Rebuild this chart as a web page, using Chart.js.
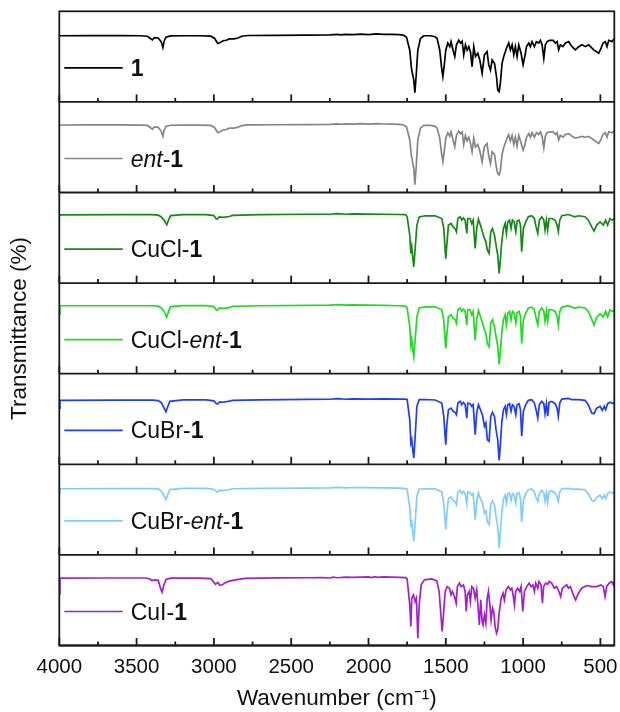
<!DOCTYPE html>
<html><head><meta charset="utf-8">
<script src="https://cdn.jsdelivr.net/npm/chart.js@4"></script>
<style>html,body{margin:0;padding:0;background:#fff;}#wrap{width:620px;height:712px;position:relative;}</style>
</head><body><div id="wrap"><canvas id="c"></canvas></div>
<script>
const seriesLabels = ['1', 'ent-1', 'CuCl-1', 'CuCl-ent-1', 'CuBr-1', 'CuBr-ent-1', 'CuI-1'];
const legendParts = [
  [['1', 'bold']],
  [['ent', 'italic'], ['-', 'normal'], ['1', 'bold']],
  [['CuCl-', 'normal'], ['1', 'bold']],
  [['CuCl-', 'normal'], ['ent', 'italic'], ['-', 'normal'], ['1', 'bold']],
  [['CuBr-', 'normal'], ['1', 'bold']],
  [['CuBr-', 'normal'], ['ent', 'italic'], ['-', 'normal'], ['1', 'bold']],
  [['CuI-', 'normal'], ['1', 'bold']]
];
const seriesColors = ['#000000', '#858585', '#138a13', '#1fdc1f', '#1e3cff', '#80cdfd', '#a21fd0'];
const xTickValues = [4000, 3500, 3000, 2500, 2000, 1500, 1000, 500];
const xMinorTickValues = [3750, 3250, 2750, 2250, 1750, 1250, 750];

// [wavenumber, transmittance within panel]
const spec1 = [[4000,73],[3800,73.2],[3600,73.2],[3480,73],[3430,72.5],[3410,70],[3398,68.5],[3385,71],[3360,70.5],[3340,66],[3330,60],[3322,67],[3310,71.5],[3280,72.8],[3200,73],[3100,73],[3020,72.5],[2995,70],[2975,64.5],[2960,65.5],[2940,67.5],[2920,68],[2900,69.5],[2870,69.5],[2845,70.5],[2820,72.5],[2780,73.3],[2600,73.5],[2400,73.8],[2250,74],[2200,74.5],[2180,74],[2150,74.6],[2100,74.2],[2050,74.8],[2000,74.3],[1950,75],[1900,74.5],[1850,74.5],[1800,74.3],[1772,73.5],
[1754,71.3],[1733,57],[1722,37],[1716,31.6],[1707,24],[1700,10.3],[1692,28],[1681,57],[1664,70],[1642,73],[1599,73],[1570,72],[1556,70],[1539,57],[1528,39],[1519,28],[1511,39],[1500,57],[1487,65],[1474,61],[1466,66.5],[1453,57],[1442,50],[1431,63],[1416,68],[1405,65],[1394,67],[1384,52],[1373,63],[1362,57],[1351,61],[1340,55],[1330,39],[1319,61],[1308,50],[1293,53.7],[1280,46.3],[1265,31.6],[1250,52],[1233,55.5],[1222,40.8],[1211,35],[1200,46.3],[1185,42.6],[1172,28],[1164,13],[1155,11.4],[1147,20.6],[1136,42.6],[1125,50],[1108,59],[1093,65],[1082,57.4],[1071,63],[1060,52],[1050,61],[1039,50],[1028,63],[1013,53.7],[1000,41],[989,50],[978,61],[963,65],[953,61],[942,66.5],[927,61],[914,66.5],[899,65],[888,68],[877,63],[866,48],[856,63],[845,66.5],[828,68],[806,68],[791,65],[780,66.5],[770,57.4],[759,63],[742,61],[726,65],[705,66.5],[683,61],[662,57.4],[640,61],[619,63],[597,61],[576,63],[543,57.4],[511,53.7],[496,59],[483,65],[468,66.5],[457,61],[446,68],[425,66.5],[410,70]];

const spec2 = [[4000,74.5],[3800,74.6],[3600,74.6],[3480,74.4],[3430,74],[3410,71.5],[3398,70],[3385,72.5],[3360,72],[3340,67.5],[3330,62],[3322,68.5],[3310,73],[3280,74.2],[3200,74.4],[3100,74.4],[3020,74],[2995,71.5],[2975,66],[2960,67],[2940,69],[2920,69.5],[2900,71],[2870,71],[2845,72],[2820,73.8],[2780,74.6],[2600,74.8],[2400,75],[2250,75.2],[2200,75.8],[2180,75.2],[2150,75.8],[2100,75.4],[2050,76],[2000,75.5],[1950,76],[1900,75.6],[1850,75.5],[1800,75.2],[1772,74.5],
[1754,72.5],[1733,58],[1722,40],[1716,35],[1707,26],[1700,8.5],[1692,27],[1681,58],[1664,71],[1642,74],[1599,74],[1570,73],[1556,71],[1539,60],[1528,44],[1519,34],[1511,44],[1500,60],[1487,66],[1474,62],[1466,67],[1453,58],[1442,50.7],[1431,63],[1416,68],[1405,65],[1394,67],[1384,53],[1373,63],[1362,57],[1351,61],[1340,54],[1330,45],[1319,60],[1308,50],[1293,53],[1280,46],[1265,34],[1250,51],[1233,54],[1222,40],[1211,32],[1200,45],[1185,42],[1172,27],[1164,21],[1155,19.5],[1147,24],[1136,42],[1125,50],[1108,58],[1093,64],[1082,57],[1071,63],[1060,53],[1050,61],[1039,51],[1028,63],[1013,55],[1000,47],[989,52],[978,61],[963,65],[953,61],[942,66],[927,61],[914,66],[899,64],[888,67],[877,62],[866,49],[856,62],[845,66],[828,67],[806,67],[791,64],[780,66],[770,58],[759,63],[742,61],[726,64],[705,65],[683,62],[662,60],[640,61],[619,62],[597,61],[576,62],[543,58],[511,54],[496,59],[483,64],[468,66],[457,61],[446,67],[425,66],[410,68]];

const spec3 = [[4000,75.4],[3600,75.5],[3400,75.5],[3360,75],[3340,73],[3320,69],[3305,64.4],[3295,69],[3280,74.5],[3200,75.6],[3050,75.6],[3000,74.5],[2985,71],[2978,70.6],[2965,73],[2940,72.5],[2900,73.5],[2880,74.8],[2700,75.5],[2400,76],[2250,76],[2200,76.6],[2150,76],[2100,76.5],[2000,76.2],[1900,76],[1800,75.7],
[1760,75.5],[1750,73.2],[1733,52.9],[1726,32.7],[1720,40],[1713,27.2],[1707,18],[1698,38.2],[1687,64],[1672,73],[1634,74.3],[1569,74.3],[1526,71.3],[1513,60.3],[1504,36.4],[1500,27],[1494,41],[1483,64],[1466,65.8],[1453,62],[1440,60.3],[1431,56.6],[1422,71.3],[1407,73.2],[1397,69.5],[1386,72],[1375,69.5],[1364,54.8],[1358,71.3],[1343,71.3],[1332,65.8],[1323,69.5],[1310,38.2],[1300,60.3],[1289,70.6],[1276,64],[1263,56.6],[1250,49.3],[1241,45.6],[1231,36.4],[1220,32.7],[1209,56.6],[1198,60.3],[1185,52.9],[1175,41.9],[1164,30.9],[1155,10.7],[1147,25.4],[1138,45.6],[1127,60.3],[1116,65.8],[1108,54.8],[1099,67.6],[1088,69.5],[1078,60.3],[1069,69.5],[1058,67.6],[1047,56.6],[1039,68.4],[1026,69.5],[1017,64],[1009,34.6],[998,60.3],[983,67.6],[966,73.2],[944,74.3],[927,71.3],[916,62],[905,54.8],[895,69.5],[879,73.2],[866,69.5],[858,58.5],[849,69.5],[841,58.5],[832,71.3],[815,71.3],[793,69.5],[780,64],[772,57],[763,69.5],[750,74.3],[707,75.7],[685,74.3],[664,73.2],[642,74.3],[599,73.2],[578,69.5],[556,62],[541,57.4],[524,64],[502,67.6],[481,64],[466,69.5],[453,64],[438,71.3],[423,69.5],[410,71.3]];

const spec4 = [[4000,66],[3996,75],[3600,75],[3400,75],[3360,74.5],[3340,72.5],[3320,68],[3305,62.5],[3295,68],[3280,74],[3200,75.2],[3050,75.2],[3000,74],[2985,70.5],[2978,70],[2965,72.5],[2940,72],[2900,73],[2880,74.4],[2700,75],[2400,75.5],[2250,75.6],[2200,76.2],[2150,75.6],[2100,76],[2000,75.8],[1900,75.5],[1800,75],
[1760,74.6],[1750,72.5],[1733,52],[1726,31.6],[1720,38],[1713,26],[1707,18.7],[1698,38],[1687,63],[1672,72.5],[1634,73.8],[1569,73.8],[1526,70.6],[1513,59],[1504,36],[1500,28],[1494,41],[1483,63],[1466,65],[1453,61.4],[1440,59.6],[1431,55.5],[1422,70.6],[1407,72.5],[1397,68.8],[1386,71.3],[1375,68.8],[1364,53.7],[1358,70.6],[1343,70.6],[1332,65],[1323,68.8],[1310,37],[1300,59.6],[1289,69.9],[1276,63.2],[1263,55.9],[1250,48.5],[1241,45],[1231,33],[1220,29.8],[1209,55.9],[1198,59.6],[1185,52.2],[1175,41],[1164,30],[1155,10.3],[1147,25],[1138,45],[1127,59.6],[1116,65],[1108,54],[1099,66.9],[1088,68.8],[1078,59.6],[1069,68.8],[1058,66.9],[1047,55.9],[1039,67.6],[1026,68.8],[1017,63.2],[1009,33.5],[998,59.6],[983,66.9],[966,72.5],[944,73.5],[927,70.6],[916,61.4],[905,54],[895,68.8],[879,72.5],[866,68.8],[858,57.7],[849,68.8],[841,57.7],[832,70.6],[815,70.6],[793,68.8],[780,63.2],[772,53.7],[763,68.8],[750,73.5],[707,75],[685,73.5],[664,72.5],[642,73.5],[599,72.5],[578,68.8],[556,60],[541,53.7],[524,62],[502,66.2],[481,62.5],[466,68.8],[453,63],[438,70.6],[423,68.8],[410,70]];

const spec5 = [[4000,62],[3996,70.5],[3600,70.8],[3400,70.8],[3360,70.3],[3340,68],[3322,62],[3310,58],[3300,63],[3285,69.5],[3200,71],[3050,71],[3000,70],[2985,67],[2975,66.5],[2962,69],[2940,68.5],[2900,69.8],[2880,70.6],[2700,71.2],[2400,71.6],[2250,71.8],[2200,72.4],[2150,71.8],[2100,72.2],[2000,72],[1900,72.2],[1800,72],
[1760,72],[1750,71.5],[1733,49],[1726,23.5],[1720,27],[1713,15],[1707,7],[1698,31],[1687,64],[1672,71.3],[1634,71.5],[1569,71],[1526,67.6],[1513,53],[1504,30],[1500,21.7],[1494,42],[1483,60.3],[1466,62],[1453,58.5],[1440,57.4],[1431,54.8],[1422,67.6],[1407,69.5],[1397,65.8],[1386,68.4],[1375,65.8],[1364,51],[1358,67.6],[1343,66.9],[1332,64],[1323,65.8],[1310,32.7],[1300,56.6],[1289,65.8],[1276,60.3],[1263,54.8],[1250,42],[1241,45.6],[1231,27],[1220,25.4],[1209,52.9],[1198,57.4],[1185,52.9],[1175,38.2],[1164,27],[1155,4.4],[1147,21.7],[1138,45.6],[1127,60.3],[1116,64],[1108,54.8],[1099,65.8],[1088,66.9],[1078,58.5],[1069,65.8],[1058,64],[1047,54.8],[1039,65.8],[1026,66.9],[1017,60.3],[1009,31],[998,58.5],[983,65.8],[966,70.6],[944,71.3],[927,67.6],[916,60.3],[905,51],[895,65.8],[879,69.5],[866,66.9],[858,55.9],[849,66.9],[841,53],[832,68.4],[815,69.5],[793,66.9],[780,62],[772,53],[763,67.6],[750,72],[707,72.8],[685,71.3],[664,71.3],[642,71.3],[599,70.6],[578,65.8],[556,56.6],[541,55.9],[524,62],[502,64],[488,59.6],[475,64],[466,60.3],[453,66.9],[438,68.4],[420,67],[410,68.4]];

const spec6 = [[4000,69],[3996,73],[3600,73.2],[3400,73.2],[3360,72.8],[3340,70.5],[3322,65],[3310,61],[3300,66],[3285,72],[3200,73.4],[3050,73.4],[3000,72.5],[2985,70],[2975,69.5],[2962,71.5],[2940,71],[2900,72.2],[2880,73],[2700,73.5],[2400,73.8],[2250,74],[2200,74.6],[2150,74],[2100,74.4],[2000,74.2],[1900,74],[1800,73.6],
[1760,73.2],[1750,72.5],[1733,52],[1726,33],[1720,36],[1713,24],[1707,15.4],[1698,36],[1687,65],[1672,72.5],[1634,73],[1569,72.8],[1526,69.5],[1513,57],[1504,36],[1500,28],[1494,44],[1483,62],[1466,64],[1453,60],[1440,58.5],[1431,55.5],[1422,69.5],[1407,71.3],[1397,67.6],[1386,70],[1375,67.6],[1364,56],[1358,69.5],[1343,69],[1332,65.8],[1323,67.6],[1310,39],[1300,58.5],[1289,68.4],[1276,62],[1263,57.4],[1250,46],[1241,48.5],[1231,36],[1220,33.5],[1209,55.9],[1198,59.6],[1185,55],[1175,42],[1164,31],[1155,7.7],[1147,25],[1138,47],[1127,61.4],[1116,65.8],[1108,57],[1099,67],[1088,68.4],[1078,60],[1069,67.6],[1058,65.8],[1047,57],[1039,67.6],[1026,68.4],[1017,62],[1009,36],[998,60.3],[983,67.6],[966,72],[944,72.8],[927,69.5],[916,63],[905,59],[895,67.6],[879,71.3],[866,68.4],[858,59],[849,68.4],[841,58],[832,70],[815,70.6],[793,68.4],[780,64],[772,59],[763,69.5],[750,73],[707,73.5],[685,72.5],[664,72.5],[642,72.5],[599,71.8],[578,67.6],[556,60.3],[541,59],[524,63.2],[502,65.8],[488,62],[475,65.8],[466,62],[453,67.6],[438,69.5],[420,68.4],[410,70]];

const spec7 = [[4000,57],[3996,74.3],[3700,74.5],[3450,74.5],[3420,74],[3400,71.7],[3385,72.5],[3360,72],[3345,63],[3335,58.8],[3325,66],[3310,73],[3280,74.3],[3100,74.3],[3020,73.8],[3000,70],[2990,67.5],[2975,69.5],[2960,66.5],[2945,67],[2930,69],[2900,71],[2860,72.5],[2800,74],[2600,74.6],[2400,74.8],[2300,75],[2250,74.5],[2230,75.5],[2200,74.8],[2150,75.5],[2100,75.3],[2000,75.8],[1980,75],[1960,76],[1940,75.3],[1900,75.8],[1850,75.5],[1800,75.3],
[1760,75],[1750,73.5],[1733,44.9],[1726,21],[1720,52.2],[1709,55.9],[1698,48.5],[1690,52.2],[1681,8.1],[1672,44.9],[1659,66.9],[1638,72.4],[1590,73.5],[1558,71.3],[1543,59.6],[1530,30.1],[1524,15.4],[1515,33.8],[1504,59.6],[1491,65],[1476,63.2],[1466,55.9],[1457,59.6],[1444,54],[1433,46.7],[1425,65],[1412,68.8],[1401,65],[1386,66.9],[1375,59.6],[1368,37.5],[1360,55.9],[1349,59.6],[1341,48.5],[1332,65],[1321,63.2],[1310,52.2],[1300,61.4],[1289,37.5],[1283,22.8],[1274,50.4],[1265,26.5],[1259,22.8],[1250,33.8],[1241,24.6],[1232,52.2],[1224,59.6],[1215,44.9],[1207,28.3],[1198,41.2],[1190,37.5],[1181,21],[1172,13.6],[1164,17.3],[1155,35.7],[1142,52.2],[1129,57.7],[1121,50.4],[1110,61.4],[1095,65],[1082,61.4],[1073,63.2],[1063,54],[1056,44.8],[1048,59.6],[1035,63.2],[1022,59.6],[1013,65],[1002,37.5],[991,59.6],[976,65],[961,68.8],[948,65],[937,66.9],[927,59.6],[918,68.8],[905,63.2],[897,70.6],[884,66.9],[875,46.7],[867,65],[854,68.8],[841,67.6],[832,70.6],[815,68.8],[798,63.2],[783,65],[768,59.6],[757,54],[746,63.2],[733,65],[718,66.9],[707,63.2],[694,65],[675,55.9],[660,50.4],[642,57.7],[621,63.2],[588,66.2],[556,65],[524,65],[496,66.9],[481,65],[470,54],[459,65],[444,68.8],[427,70.6],[416,66.9],[410,70.6]];

const spectra = [spec1, spec2, spec3, spec4, spec5, spec6, spec7];
const FONT = '"Liberation Sans", Arial, Helvetica, sans-serif';
const panelIds = spectra.map((_, i) => 'y' + i);

const scales = {
  x: {
    type: 'linear', position: 'bottom', reverse: true, min: 410, max: 4000,
    afterBuildTicks: s => { s.ticks = xTickValues.map(v => ({ value: v })); },
    afterFit: s => { s.height = 66.5; s.paddingLeft = 0; s.paddingRight = 0; },
    ticks: { autoSkip: false, maxRotation: 0, padding: 10, color: '#111', font: { family: FONT, size: 20.5 }, callback: v => String(v) },
    grid: { display: false, drawTicks: false },
    border: { display: false },
    title: { display: true, text: 'Wavenumber (cm\u207B\u00B9)', color: '#111', font: { family: FONT, size: 22.5 }, padding: { top: 0, bottom: 0 } }
  }
};
panelIds.forEach((id, i) => {
  scales[id] = {
    type: 'linear', position: 'left', stack: 'ir', stackWeight: 1, weight: 7 - i,
    min: 0, max: 100,
    afterFit: s => { s.width = 59.3; },
    ticks: { display: false },
    grid: { display: false, drawTicks: false },
    border: { display: false },
    title: { display: i === 3, text: 'Transmittance (%)', color: '#111', font: { family: FONT, size: 22.5 }, padding: { top: 6, bottom: 0 } }
  };
});

const panelPlugin = {
  id: 'panels',
  afterDatasetsDraw(chart) {
    const ctx = chart.ctx, a = chart.chartArea, xs = chart.scales.x;
    ctx.save();
    ctx.strokeStyle = '#1a1a1a';
    ctx.lineWidth = 1.8;
    panelIds.forEach((id, i) => {
      const ys = chart.scales[id];
      const yb = ys.getPixelForValue(ys.min);
      ctx.beginPath(); ctx.moveTo(a.left, yb); ctx.lineTo(a.right, yb); ctx.stroke();
      xTickValues.concat(xMinorTickValues).forEach(v => {
        const px = xs.getPixelForValue(v);
        const len = xTickValues.includes(v) ? 7.5 : 4;
        ctx.beginPath(); ctx.moveTo(px, yb); ctx.lineTo(px, yb - len); ctx.stroke();
      });
      // legend
      const ds = chart.data.datasets[i];
      const ly = yb - 34;
      ctx.save();
      ctx.strokeStyle = ds.borderColor; ctx.lineWidth = 1.7;
      ctx.beginPath(); ctx.moveTo(a.left + 5, ly); ctx.lineTo(a.left + 63.4, ly); ctx.stroke();
      let tx = a.left + 71.4;
      ctx.fillStyle = '#111';
      ctx.textBaseline = 'alphabetic';
      legendParts[i].forEach(([t, st]) => {
        ctx.font = (st === 'bold' ? 'bold ' : st === 'italic' ? 'italic ' : '') + '23px ' + FONT;
        ctx.fillText(t, tx, ly + 8);
        tx += ctx.measureText(t).width;
      });
      ctx.restore();
    });
    ctx.strokeRect(a.left, a.top, a.right - a.left, a.bottom - a.top);
    ctx.restore();
  }
};

new Chart(document.getElementById('c'), {
  type: 'line',
  data: {
    datasets: spectra.map((s, i) => ({
      label: seriesLabels[i],
      data: s.map(([x, y]) => ({ x, y })),
      borderColor: seriesColors[i],
      borderWidth: 1.7,
      pointRadius: 0,
      tension: 0,
      fill: false,
      xAxisID: 'x',
      yAxisID: panelIds[i]
    }))
  },
  options: {
    responsive: true, maintainAspectRatio: false, animation: false,
    layout: { padding: { top: 11.3, right: 5.7, bottom: 0, left: 0 } },
    plugins: { legend: { display: false }, tooltip: { enabled: false } },
    scales
  },
  plugins: [panelPlugin]
});
</script></body></html>
